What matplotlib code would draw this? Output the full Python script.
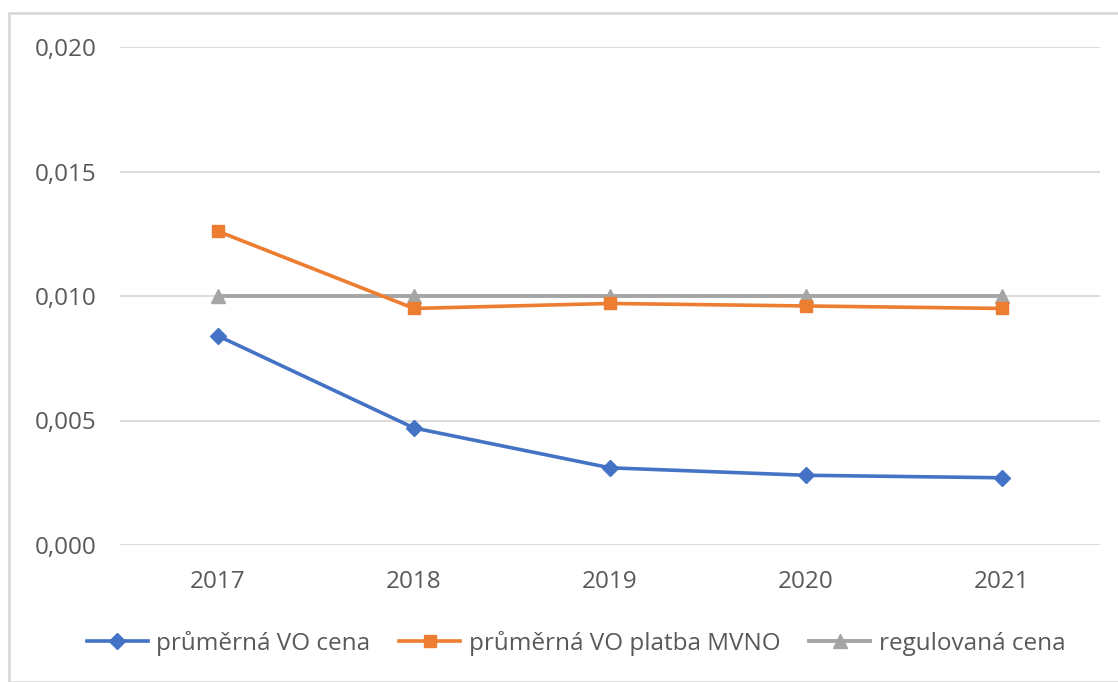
import matplotlib.pyplot as plt
from matplotlib.patches import Rectangle
from matplotlib.ticker import FuncFormatter, MultipleLocator

years = ["2017", "2018", "2019", "2020", "2021"]
vo_cena = [0.0084, 0.0047, 0.0031, 0.0028, 0.0027]
vo_platba_mvno = [0.0126, 0.0095, 0.0097, 0.0096, 0.0095]
regulovana_cena = [0.010, 0.010, 0.010, 0.010, 0.010]

plt.rcParams['font.family'] = ['Open Sans', 'DejaVu Sans']

fig = plt.figure(figsize=(11.18, 6.82), dpi=100)
ax = fig.add_axes([120 / 1118, 1 - 545 / 682, 980 / 1118, 498 / 682])

x = range(len(years))
ax.plot(x, vo_cena, color='#4472C4', lw=2.6, marker='D', ms=8,
        label='průměrná VO cena', zorder=3)
ax.plot(x, vo_platba_mvno, color='#ED7D31', lw=2.6, marker='s', ms=9,
        label='průměrná VO platba MVNO', zorder=4)
ax.plot(x, regulovana_cena, color='#A5A5A5', lw=2.8, marker='^', ms=10,
        label='regulovaná cena', zorder=2)

ax.set_xlim(-0.5, len(years) - 0.5)
ax.set_ylim(0, 0.020)
ax.set_xticks(list(x))
ax.set_xticklabels(years)
ax.yaxis.set_major_locator(MultipleLocator(0.005))
ax.yaxis.set_major_formatter(FuncFormatter(lambda v, p: f"{v:.3f}".replace('.', ',')))
ax.grid(axis='y', color='#D9D9D9', lw=1.3)
ax.set_axisbelow(True)
for s in ax.spines.values():
    s.set_visible(False)
ax.tick_params(length=0, labelsize=17.5, labelcolor='#595959')
ax.tick_params(axis='x', pad=18)
ax.tick_params(axis='y', pad=17)

leg = fig.legend(loc='center', bbox_to_anchor=(576 / 1118, 1 - 643 / 682), ncol=3,
                 frameon=False, fontsize=17.5, handlelength=2.5,
                 handletextpad=0.35, columnspacing=1.2)
for t in leg.get_texts():
    t.set_color('#595959')

# outer chart border
fig.patches.append(Rectangle((9 / 1118, 0), 1 - 9 / 1118 + 0.01, 1 - 13 / 682,
                             transform=fig.transFigure, fill=False,
                             edgecolor='#D9D9D9', lw=2))

fig.savefig('out.png', dpi=100)
